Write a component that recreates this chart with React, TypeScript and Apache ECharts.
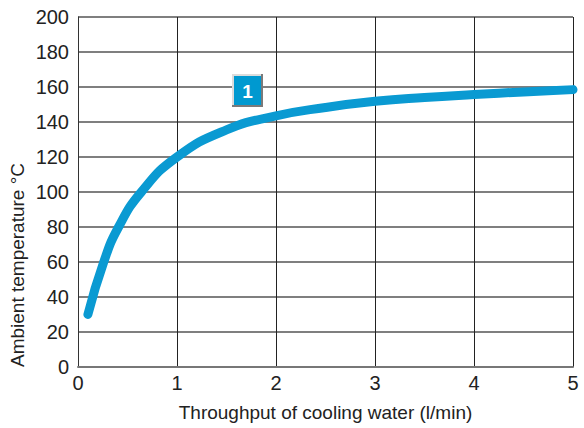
import React, { useEffect, useRef } from "react";
import * as echarts from "echarts";

const xTicks = [0, 1, 2, 3, 4, 5];
const yTicks = [0, 20, 40, 60, 80, 100, 120, 140, 160, 180, 200];
const flowValues = [0.1, 0.26, 0.41, 0.64, 1.0, 1.5, 2.0, 2.5, 3.0, 3.5, 4.0, 4.5, 5.0];
const tempValues = [30, 60, 80, 100, 120, 135.5, 143.5, 148.3, 151.8, 154, 155.7, 157.2, 158.5];
const curveLabel = "1";
const xTitle = "Throughput of cooling water (l/min)";
const yTitle = "Ambient temperature °C";

const FONT = "'Liberation Sans', Arial, sans-serif";

export default function App() {
  const ref = useRef<HTMLDivElement>(null);
  useEffect(() => {
    if (!ref.current) return;
    const chart = echarts.init(ref.current, undefined, { renderer: "svg" });
    chart.setOption({
      animation: false,
      backgroundColor: "#ffffff",
      grid: { left: 78, top: 17, right: 11, bottom: 61, containLabel: false },
      xAxis: {
        type: "value",
        min: xTicks[0],
        max: xTicks[xTicks.length - 1],
        interval: 1,
        name: xTitle,
        nameLocation: "middle",
        nameGap: 36,
        nameTextStyle: { fontFamily: FONT, fontSize: 19, color: "#222" },
        axisLine: { show: true, lineStyle: { color: "#777", width: 2 } },
        axisTick: { show: false },
        axisLabel: { fontFamily: FONT, fontSize: 20, color: "#222", margin: 6 },
        splitLine: { show: true, lineStyle: { color: "#222", width: 1 } },
      },
      yAxis: {
        type: "value",
        min: yTicks[0],
        max: yTicks[yTicks.length - 1],
        interval: 20,
        axisLine: { show: true, lineStyle: { color: "#333", width: 1 } },
        axisTick: { show: false },
        axisLabel: { fontFamily: FONT, fontSize: 20, color: "#222", margin: 9 },
        splitLine: { show: true, lineStyle: { color: "#555", width: 1.5 } },
      },
      graphic: [
        {
          type: "text",
          x: 17,
          y: 265,
          rotation: Math.PI / 2,
          style: {
            text: yTitle,
            fontFamily: FONT,
            fontSize: 19,
            fill: "#222",
            align: "center",
            verticalAlign: "middle",
          },
        },
        { type: "rect", shape: { x: 232, y: 74, width: 31, height: 33 }, style: { fill: "#7a7a7a" }, z: 10 },
        { type: "rect", shape: { x: 232, y: 74, width: 29, height: 31 }, style: { fill: "#dcdcdc" }, z: 11 },
        { type: "rect", shape: { x: 234, y: 76, width: 27, height: 29 }, style: { fill: "#0099d0" }, z: 12 },
        {
          type: "text",
          x: 247.5,
          y: 91,
          z: 13,
          style: {
            text: curveLabel,
            fontFamily: FONT,
            fontSize: 19,
            fontWeight: "bold",
            fill: "#ffffff",
            align: "center",
            verticalAlign: "middle",
          },
        },
      ],
      series: [
        {
          type: "line",
          data: flowValues.map((x, i) => [x, tempValues[i]]),
          smooth: 0.5,
          showSymbol: false,
          lineStyle: { color: "#0a9ad2", width: 9, cap: "round", join: "round" },
          z: 5,
        },
      ],
    });
    return () => chart.dispose();
  }, []);
  return <div ref={ref} style={{ width: 584, height: 428, position: "absolute", left: 0, top: 0 }} />;
}
